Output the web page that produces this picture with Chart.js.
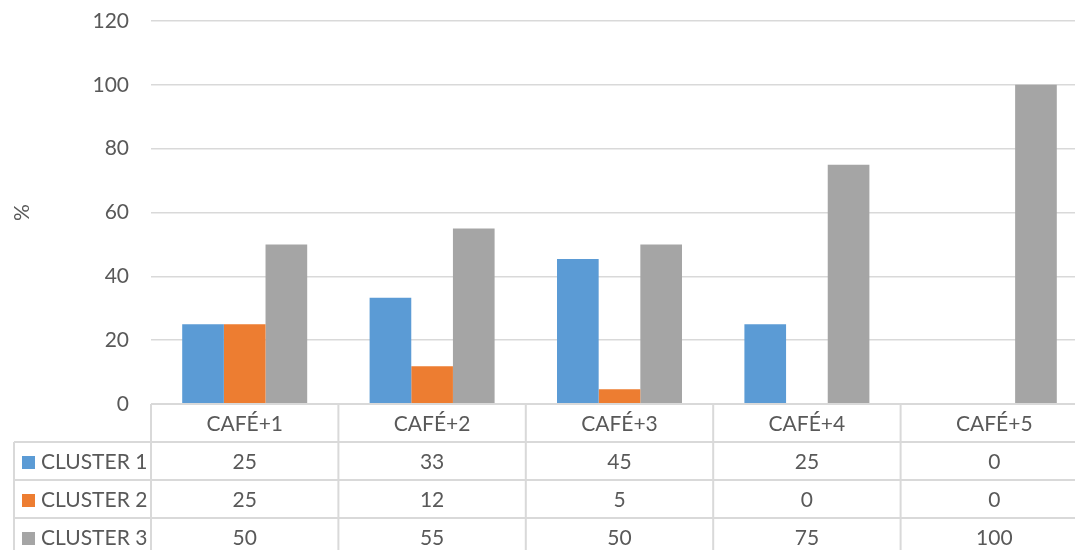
<!DOCTYPE html>
<html>
<head>
<meta charset="utf-8">
<script src="https://cdn.jsdelivr.net/npm/chart.js@4"></script>
<style>
html,body{margin:0;padding:0;background:#fff;overflow:hidden;width:1075px;height:550px;}
#wrap{position:absolute;left:0;top:0;width:1088px;height:556px;}
</style>
</head>
<body>
<div id="wrap"><canvas id="c"></canvas></div>
<script>
const categories = ['CAFÉ+1','CAFÉ+2','CAFÉ+3','CAFÉ+4','CAFÉ+5'];
const seriesNames = ['CLUSTER 1','CLUSTER 2','CLUSTER 3'];
const cluster1 = [25, 33.3, 45.4, 25, 0];
const cluster2 = [25, 11.8, 4.6, 0, 0];
const cluster3 = [50, 55, 50, 75, 100];
const yTicks = [0, 20, 40, 60, 80, 100, 120];
const colors = ['#5B9BD5','#ED7D31','#A5A5A5'];

const FONT = 'Lato, "Open Sans", sans-serif';
const FSIZE = 21;
const TXT = '#595959';
const LINE = '#D9D9D9';
const ROW_H = 38;
const LEFT_EDGE = 14;

const tablePlugin = {
  id: 'dataTable',
  afterDraw(chart) {
    const ctx = chart.ctx;
    const xs = chart.scales.x;
    const area = chart.chartArea;
    const w = xs.getPixelForValue(1) - xs.getPixelForValue(0);
    const top = area.bottom;
    const colL = i => xs.getPixelForValue(i) - w / 2;
    const firstL = colL(0);
    const lastR = colL(categories.length - 1) + w;
    const nRows = chart.data.datasets.length;
    ctx.save();
    ctx.strokeStyle = LINE;
    ctx.lineWidth = 2;
    ctx.beginPath();
    ctx.moveTo(firstL, top); ctx.lineTo(lastR, top);
    for (let r = 1; r <= nRows + 1; r++) {
      const y = top + r * ROW_H;
      ctx.moveTo(LEFT_EDGE, y); ctx.lineTo(lastR, y);
    }
    for (let i = 0; i <= categories.length; i++) {
      const x = colL(i);
      ctx.moveTo(x, top); ctx.lineTo(x, top + (nRows + 1) * ROW_H);
    }
    ctx.moveTo(LEFT_EDGE, top + ROW_H); ctx.lineTo(LEFT_EDGE, top + (nRows + 1) * ROW_H);
    ctx.stroke();

    ctx.fillStyle = TXT;
    ctx.font = FSIZE + 'px ' + FONT;
    ctx.textBaseline = 'middle';
    ctx.textAlign = 'center';
    categories.forEach((c, i) => {
      ctx.fillText(c, xs.getPixelForValue(i), top + ROW_H / 2 + 1);
    });
    chart.data.datasets.forEach((ds, r) => {
      const yc = top + (r + 1) * ROW_H + ROW_H / 2 + 1;
      ctx.fillStyle = ds.backgroundColor;
      ctx.fillRect(22, yc - 6, 13, 13);
      ctx.fillStyle = TXT;
      ctx.textAlign = 'left';
      ctx.fillText(ds.label, 41, yc);
      ctx.textAlign = 'center';
      ds.data.forEach((v, i) => {
        ctx.fillText(String(Math.round(v)), xs.getPixelForValue(i), yc);
      });
    });
    ctx.restore();
  }
};

new Chart(document.getElementById('c'), {
  type: 'bar',
  data: {
    labels: categories,
    datasets: [cluster1, cluster2, cluster3].map((d, i) => ({
      label: seriesNames[i],
      data: d,
      backgroundColor: colors[i],
      borderWidth: 0,
      categoryPercentage: 0.667,
      barPercentage: 1.0
    }))
  },
  options: {
    responsive: true,
    maintainAspectRatio: false,
    animation: false,
    layout: { padding: { top: 21, bottom: 152, right: 0, left: 0 } },
    plugins: { legend: { display: false }, tooltip: { enabled: false } },
    scales: {
      x: { display: false },
      y: {
        min: 0, max: 120,
        afterBuildTicks(scale) { scale.ticks = yTicks.map(v => ({ value: v })); },
        afterFit(scale) { scale.width = 151; scale.paddingTop = 0; scale.paddingBottom = 0; },
        border: { display: false },
        grid: { color: LINE, lineWidth: 1.5, drawTicks: false },
        ticks: { color: TXT, font: { family: FONT, size: FSIZE }, padding: 22 },
        title: { display: true, text: '%', color: TXT, font: { family: FONT, size: FSIZE }, padding: { top: 10, bottom: 0 } }
      }
    }
  },
  plugins: [tablePlugin]
});
</script>
</body>
</html>
